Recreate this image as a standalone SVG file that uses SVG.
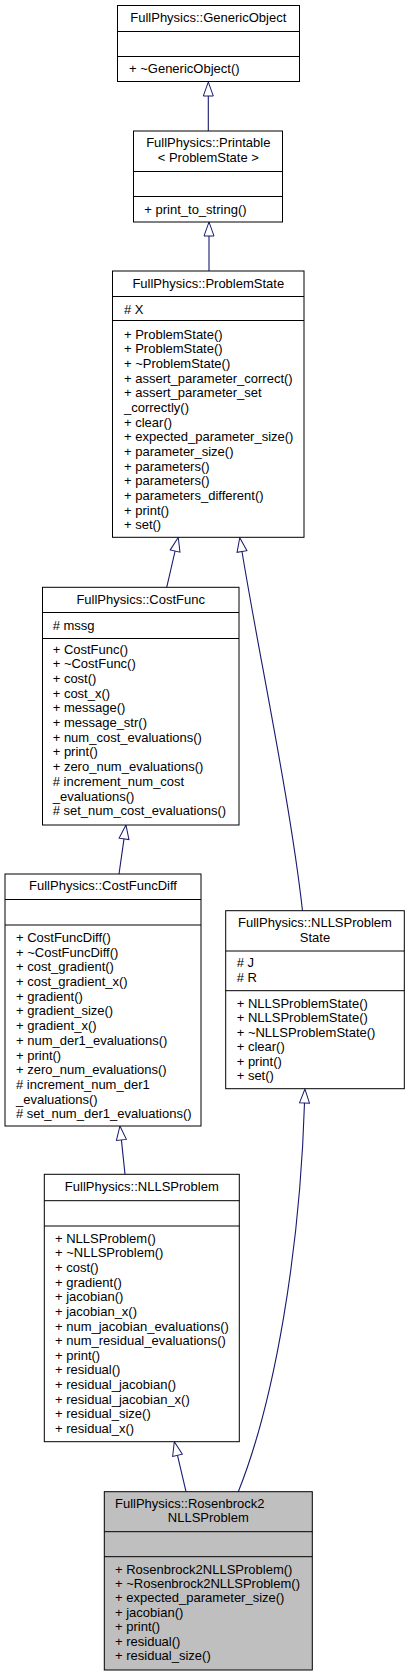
<svg xmlns="http://www.w3.org/2000/svg" width="410" height="1676" viewBox="0 0 410 1676">
<style>
.box{fill:#ffffff;stroke:#000000;stroke-width:1}
.cur{fill:#bfbfbf;stroke:#000000;stroke-width:1}
.sep{stroke:#000000;stroke-width:1;fill:none}
text{font-family:"Liberation Sans",Arial,Helvetica,sans-serif;font-size:13px;fill:#000000}
.t{text-anchor:middle}
.edge{fill:none;stroke:#191970;stroke-width:1.1}
</style>
<defs>
<marker id="inh" markerUnits="userSpaceOnUse" viewBox="-1 -1 16 12" markerWidth="16" markerHeight="12" refX="0" refY="5" orient="auto">
<path d="M0,0 L14,5 L0,10 Z" fill="#ffffff" stroke="#191970" stroke-width="1"/>
</marker>
</defs>

<g id="connectors">
<path class="edge" d="M208.3,131 L208.3,96" marker-end="url(#inh)"/>
<path class="edge" d="M209,271 L209,236" marker-end="url(#inh)"/>
<path class="edge" d="M166.7,587.3 L175.1,551" marker-end="url(#inh)"/>
<path class="edge" d="M302.5,910.7 C290,800 258,650 242,551.5" marker-end="url(#inh)"/>
<path class="edge" d="M119,874 L124,838.9" marker-end="url(#inh)"/>
<path class="edge" d="M125,1174.3 L121.4,1139.9" marker-end="url(#inh)"/>
<path class="edge" d="M186,1491.7 L177.5,1455.3" marker-end="url(#inh)"/>
<path class="edge" d="M238.3,1491.7 C275,1400 300,1250 304.5,1103" marker-end="url(#inh)"/>
</g>

<g id="GenericObject">
<rect class="box" x="117.5" y="5.5" width="182" height="76"/>
<line class="sep" x1="117.5" y1="31.5" x2="299.5" y2="31.5"/>
<line class="sep" x1="117.5" y1="56.5" x2="299.5" y2="56.5"/>
<text class="t" x="208.3" y="21.8">FullPhysics::GenericObject</text>
<text x="129" y="72.8">+ ~GenericObject()</text>
</g>

<g id="Printable">
<rect class="box" x="133.5" y="131" width="149" height="91"/>
<line class="sep" x1="133.5" y1="171.5" x2="282.5" y2="171.5"/>
<line class="sep" x1="133.5" y1="196.5" x2="282.5" y2="196.5"/>
<text class="t" x="208.3" y="147.2">FullPhysics::Printable</text>
<text class="t" x="208.3" y="162.2">&lt; ProblemState &gt;</text>
<text x="144.3" y="213.8">+ print_to_string()</text>
</g>

<g id="ProblemState">
<rect class="box" x="112.5" y="271" width="191.5" height="266.3"/>
<line class="sep" x1="112.5" y1="296.5" x2="304" y2="296.5"/>
<line class="sep" x1="112.5" y1="320.5" x2="304" y2="320.5"/>
<text class="t" x="208.3" y="287.8">FullPhysics::ProblemState</text>
<text x="124" y="313.5"># X</text>
<text x="124" y="338.5">+ ProblemState()</text>
<text x="124" y="353.2">+ ProblemState()</text>
<text x="124" y="367.8">+ ~ProblemState()</text>
<text x="124" y="382.5">+ assert_parameter_correct()</text>
<text x="124" y="397.2">+ assert_parameter_set</text>
<text x="124" y="411.8">_correctly()</text>
<text x="124" y="426.5">+ clear()</text>
<text x="124" y="441.2">+ expected_parameter_size()</text>
<text x="124" y="455.9">+ parameter_size()</text>
<text x="124" y="470.5">+ parameters()</text>
<text x="124" y="485.2">+ parameters()</text>
<text x="124" y="499.9">+ parameters_different()</text>
<text x="124" y="514.5">+ print()</text>
<text x="124" y="529.2">+ set()</text>
</g>

<g id="CostFunc">
<rect class="box" x="42.5" y="587.3" width="196.5" height="237.7"/>
<line class="sep" x1="42.5" y1="612.5" x2="239" y2="612.5"/>
<line class="sep" x1="42.5" y1="638.5" x2="239" y2="638.5"/>
<text class="t" x="140.7" y="603.8">FullPhysics::CostFunc</text>
<text x="52.7" y="629.5"># mssg</text>
<text x="52.7" y="653.5">+ CostFunc()</text>
<text x="52.7" y="668.2">+ ~CostFunc()</text>
<text x="52.7" y="682.9">+ cost()</text>
<text x="52.7" y="697.6">+ cost_x()</text>
<text x="52.7" y="712.3">+ message()</text>
<text x="52.7" y="727">+ message_str()</text>
<text x="52.7" y="741.7">+ num_cost_evaluations()</text>
<text x="52.7" y="756.4">+ print()</text>
<text x="52.7" y="771.1">+ zero_num_evaluations()</text>
<text x="52.7" y="785.8"># increment_num_cost</text>
<text x="52.7" y="800.5">_evaluations()</text>
<text x="52.7" y="815.2"># set_num_cost_evaluations()</text>
</g>

<g id="CostFuncDiff">
<rect class="box" x="5" y="874" width="196" height="252"/>
<line class="sep" x1="5" y1="899.5" x2="201" y2="899.5"/>
<line class="sep" x1="5" y1="925" x2="201" y2="925"/>
<text class="t" x="103" y="890.2">FullPhysics::CostFuncDiff</text>
<text x="16" y="941.8">+ CostFuncDiff()</text>
<text x="16" y="956.5">+ ~CostFuncDiff()</text>
<text x="16" y="971.2">+ cost_gradient()</text>
<text x="16" y="986">+ cost_gradient_x()</text>
<text x="16" y="1000.7">+ gradient()</text>
<text x="16" y="1015.4">+ gradient_size()</text>
<text x="16" y="1030.1">+ gradient_x()</text>
<text x="16" y="1044.8">+ num_der1_evaluations()</text>
<text x="16" y="1059.6">+ print()</text>
<text x="16" y="1074.3">+ zero_num_evaluations()</text>
<text x="16" y="1089"># increment_num_der1</text>
<text x="16" y="1103.7">_evaluations()</text>
<text x="16" y="1118.4"># set_num_der1_evaluations()</text>
</g>

<g id="NLLSProblemState">
<rect class="box" x="225.7" y="910.7" width="178.6" height="178"/>
<line class="sep" x1="225.7" y1="951" x2="404.3" y2="951"/>
<line class="sep" x1="225.7" y1="990.7" x2="404.3" y2="990.7"/>
<text class="t" x="315" y="927.2">FullPhysics::NLLSProblem</text>
<text class="t" x="315" y="941.5">State</text>
<text x="236.7" y="967.2"># J</text>
<text x="236.7" y="981.8"># R</text>
<text x="236.7" y="1007.8">+ NLLSProblemState()</text>
<text x="236.7" y="1022.3">+ NLLSProblemState()</text>
<text x="236.7" y="1036.7">+ ~NLLSProblemState()</text>
<text x="236.7" y="1051.2">+ clear()</text>
<text x="236.7" y="1065.7">+ print()</text>
<text x="236.7" y="1080.2">+ set()</text>
</g>

<g id="NLLSProblem">
<rect class="box" x="44.3" y="1174.3" width="195" height="267.4"/>
<line class="sep" x1="44.3" y1="1200.7" x2="239.3" y2="1200.7"/>
<line class="sep" x1="44.3" y1="1226" x2="239.3" y2="1226"/>
<text class="t" x="141.8" y="1191.2">FullPhysics::NLLSProblem</text>
<text x="55" y="1242.8">+ NLLSProblem()</text>
<text x="55" y="1257.4">+ ~NLLSProblem()</text>
<text x="55" y="1272">+ cost()</text>
<text x="55" y="1286.7">+ gradient()</text>
<text x="55" y="1301.3">+ jacobian()</text>
<text x="55" y="1315.9">+ jacobian_x()</text>
<text x="55" y="1330.5">+ num_jacobian_evaluations()</text>
<text x="55" y="1345.1">+ num_residual_evaluations()</text>
<text x="55" y="1359.8">+ print()</text>
<text x="55" y="1374.4">+ residual()</text>
<text x="55" y="1389">+ residual_jacobian()</text>
<text x="55" y="1403.6">+ residual_jacobian_x()</text>
<text x="55" y="1418.2">+ residual_size()</text>
<text x="55" y="1432.8">+ residual_x()</text>
</g>

<g id="Rosenbrock2NLLSProblem">
<rect class="cur" x="104.3" y="1491.7" width="208" height="178.3"/>
<line class="sep" x1="104.3" y1="1531.7" x2="312.3" y2="1531.7"/>
<line class="sep" x1="104.3" y1="1556.7" x2="312.3" y2="1556.7"/>
<text x="115" y="1507.8">FullPhysics::Rosenbrock2</text>
<text class="t" x="208.3" y="1522.2">NLLSProblem</text>
<text x="115" y="1573.5">+ Rosenbrock2NLLSProblem()</text>
<text x="115" y="1588">+ ~Rosenbrock2NLLSProblem()</text>
<text x="115" y="1602.4">+ expected_parameter_size()</text>
<text x="115" y="1616.9">+ jacobian()</text>
<text x="115" y="1631.3">+ print()</text>
<text x="115" y="1645.8">+ residual()</text>
<text x="115" y="1660.2">+ residual_size()</text>
</g>
</svg>
